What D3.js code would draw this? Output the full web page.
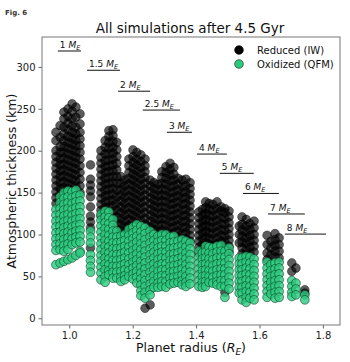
<!DOCTYPE html>
<html><head><meta charset="utf-8">
<script src="https://cdn.jsdelivr.net/npm/d3@7"></script>
<style>body{margin:0;background:#fff;}svg{display:block;font-family:"DejaVu Sans",sans-serif;}</style>
</head><body><svg id="c" width="350" height="362"></svg>
<script>
// ---- data ----
const colX = [0.958,0.971,0.983,0.996,1.009,1.021,1.034,1.067,
  1.100,1.113,1.125,1.138,1.150,1.163,1.175,1.188,1.201,1.213,1.226,1.239,1.255,1.267,1.280,
  1.292,1.305,1.318,1.330,1.343,1.356,1.368,1.381,
  1.409,1.420,1.430,1.441,1.453,1.466,1.479,1.491,1.504,
  1.536,1.545,1.558,1.570,1.583,
  1.624,1.636,1.649,1.662,1.702,1.715,1.743];
const reducedY = [
  [222,212,200,193,186,179,172,165,158,151,144,137],
  [230,216,205,198,190,183,176,169,162,155,148,141],
  [246,238,228,220,212,205,198,191,184,177,170,163,156,150],
  [250,241,233,225,217,210,203,196,189,182,175,168,161,155],
  [256,247,238,230,222,215,208,201,194,187,180,173,166,159],
  [252,240,228,220,213,206,199,192,185,178,171,164,157],
  [244,232,222,214,206,198,190,182,174,166,158,150],
  [183,166,159,152,145,133,122,115,108,84],
  [200,192,185,178,171,164,157,150,143,136,129,122],
  [212,204,196,188,181,174,167,160,153,146,139,132],
  [224,217,210,203,196,189,182,175,168,161,154,147,140,133],
  [225,218,211,204,197,190,183,176,169,162,155,148,141,134,127,120],
  [210,201,193,185,177,169,161,153,145,137,129,121,113,106],
  [169,161,154,147,140,133,126,119,112,105,100],
  [165,158,151,144,137,130,123,116,109,102],
  [190,182,174,167,160,153,146,139,132,125,118,111,106],
  [201,193,186,179,172,165,158,151,144,137,130,123,116,110],
  [198,190,183,176,169,162,155,148,141,134,127,120,113],
  [195,187,180,173,166,159,152,145,138,131,124,117,110],
  [190,182,175,168,161,154,147,140,133,126,119,112,12],
  [165,158,151,144,137,130,123,116,109,102,16],
  [162,155,148,141,134,127,120,113,106,100],
  [160,153,146,139,132,125,118,111,104,98],
  [175,168,161,154,147,140,133,126,119,112,105],
  [181,174,167,160,153,146,139,132,125,118,111,104,99],
  [185,178,171,164,157,150,143,136,129,122,115,108,101],
  [180,172,165,158,151,144,137,130,123,116,109,102],
  [167,160,153,146,139,132,125,118,111,104,97],
  [165,157,150,143,136,129,122,115,108,101,94],
  [166,158,151,144,137,130,123,116,109,102,95],
  [162,155,148,141,134,127,120,113,106,99,92],
  [127,120,113,106,99,92,85,78],
  [130,123,116,109,102,95,88,81,75],
  [139,132,125,118,111,104,97,90,83,76],
  [137,130,123,116,109,102,95,88,82],
  [136,129,122,115,108,101,94,87,82],
  [139,131,124,117,110,103,96,89,84],
  [133,128,120,113,106,99,92,85],
  [131,126,119,112,105,98,91,84,31],
  [128,121,114,107,100,93,86,80],
  [110,100,90],
  [121,112,105,98,91,84,77],
  [118,110,103,96,89,82,75],
  [113,106,99,92,85,78,72],
  [116,108,100,93,86,79],
  [99,88,78,70],
  [92,84,76],
  [101,94,87,80,73],
  [96,88,80,72],
  [66,56],
  [60],
  [34,30]
];
const oxidizedY = [
  [130,123,116,109,102,95,88,81,64],
  [145,138,131,124,117,110,103,96,89,82,66],
  [150,143,136,129,122,115,108,101,94,87,80,68],
  [152,145,138,131,124,117,110,103,96,89,82,70],
  [151,144,137,130,123,116,109,102,95,88,72],
  [153,146,139,132,125,118,111,104,97,90,75],
  [147,140,133,126,119,112,105,98,91,80,78],
  [104,97,90,76,69,62,55],
  [124,117,110,103,96,89,82,75,68,61,54,46],
  [128,121,114,107,100,93,86,79,72,65,58,50,43],
  [127,120,113,106,99,92,85,78,71,64,57,52],
  [118,111,104,97,90,83,76,69,62,55,48],
  [104,97,90,83,76,69,62,55,48],
  [98,91,84,77,70,63,56,49,44],
  [100,93,86,79,72,65,58,51,46],
  [106,99,92,85,78,71,64,57,50],
  [109,102,95,88,81,74,67,60,53,47],
  [112,105,98,91,84,77,70,63,56,49,42],
  [110,103,96,89,82,75,68,61,54,47,40,33,27],
  [108,101,94,87,80,73,66,59,52,45,38,31,24],
  [104,97,90,83,76,69,62,55,48,41,34,28],
  [100,93,86,79,72,65,58,51,44,37],
  [98,91,84,77,70,63,56,49,42,37],
  [100,93,86,79,72,65,58,51,44,38],
  [100,93,86,79,72,65,58,51,44,37],
  [97,90,83,76,69,62,55,48,41],
  [98,91,84,77,70,63,56,49,42],
  [92,85,78,71,64,57,50,43],
  [94,87,80,73,66,59,52,45,40],
  [92,85,78,71,64,57,50,43,38],
  [90,83,76,69,62,55,48,41],
  [80,73,66,59,52,45,38],
  [78,71,64,57,50,43,37],
  [86,79,72,65,58,51,44,38],
  [85,78,71,64,57,50,43],
  [84,77,70,63,56,49,42],
  [86,79,72,65,58,51,44,40],
  [87,80,73,66,59,52,45,38],
  [80,73,66,59,52,45,38,25],
  [84,77,70,63,56,49,42,35],
  [72,65,58,51,44,37,30],
  [72,65,58,51,44,37,30,22],
  [74,67,60,53,46,39,32,25,19],
  [73,66,59,52,45,38,31,24],
  [71,64,57,50,43,36,29,22],
  [67,60,53,46,39,32,25],
  [64,57,50,43,36,29],
  [66,59,52,45,38,31,24],
  [67,60,53,46,39,32,25],
  [45,38,31,26],
  [42,35,28],
  [28,22]
];
const massLabels = ["1","1.5","2","2.5","3","4","5","6","7","8"];
const massLineY = [319,296,271,248.5,222,196,173,149,124.5,100.5];
const massLineX0 = [0.964,1.056,1.154,1.232,1.308,1.403,1.475,1.548,1.627,1.680];
const massLineX1 = [1.037,1.160,1.255,1.349,1.387,1.497,1.582,1.661,1.743,1.810];
const xTicks = [1.0,1.2,1.4,1.6,1.8];
const yTicks = [0,50,100,150,200,250,300];
const seriesNames = ["Reduced (IW)","Oxidized (QFM)"];

// ---- drawing ----
const svg = d3.select("#c");
const L=42,R=340,T=37,B=325;
const x = d3.scaleLinear().domain([0.914,1.854]).range([L,R]);
const y = d3.scaleLinear().domain([-8,335.7]).range([B,T]);
const green="#2bcb7e";

svg.append("text").attr("x",5).attr("y",15).attr("font-size",7).attr("font-weight","bold").attr("fill","#333").text("Fig. 6");
svg.append("text").attr("x",190).attr("y",33).attr("text-anchor","middle").attr("font-size",13.5).attr("fill","#111").text("All simulations after 4.5 Gyr");

const redPts=[], oxPts=[];
colX.forEach((cx,i)=>{
  reducedY[i].forEach(v=>redPts.push([cx,v]));
  oxidizedY[i].forEach(v=>oxPts.push([cx,v]));
});
const gp = svg.append("g");
gp.selectAll("circle.r").data(redPts).join("circle").attr("class","r")
  .attr("cx",d=>x(d[0])).attr("cy",d=>y(d[1])).attr("r",4.4)
  .attr("fill","#000").attr("fill-opacity",0.64).attr("stroke","#000").attr("stroke-opacity",0.65).attr("stroke-width",0.6);
gp.selectAll("circle.o").data(oxPts).join("circle").attr("class","o")
  .attr("cx",d=>x(d[0])).attr("cy",d=>y(d[1])).attr("r",4.4)
  .attr("fill",green).attr("fill-opacity",0.8).attr("stroke","#0d3b22").attr("stroke-opacity",0.8).attr("stroke-width",0.7);

// mass lines & labels
massLabels.forEach((m,i)=>{
  svg.append("line").attr("x1",x(massLineX0[i])).attr("x2",x(massLineX1[i]))
    .attr("y1",y(massLineY[i])).attr("y2",y(massLineY[i])).attr("stroke","#111").attr("stroke-width",1);
  const t=svg.append("text").attr("x",x(massLineX0[i])+2).attr("y",y(massLineY[i])-3).attr("font-size",9).attr("fill","#111");
  t.append("tspan").text(m+" ");
  t.append("tspan").attr("font-style","italic").text("M");
  t.append("tspan").attr("font-style","italic").attr("font-size",6.5).attr("dy",2).text("E");
});

// axes
const ax = svg.append("g").attr("transform",`translate(0,${B})`)
  .call(d3.axisBottom(x).tickValues(xTicks).tickFormat(d3.format(".1f")).tickSize(3.5).tickPadding(3));
const ay = svg.append("g").attr("transform",`translate(${L},0)`)
  .call(d3.axisLeft(y).tickValues(yTicks).tickSize(3.5).tickPadding(3));
[ax,ay].forEach(a=>{
  a.select(".domain").remove();
  a.selectAll("line").attr("stroke","#666");
  a.selectAll("text").attr("font-size",10).attr("fill","#222").attr("font-family","DejaVu Sans");
});
svg.append("rect").attr("x",L).attr("y",T).attr("width",R-L).attr("height",B-T)
  .attr("fill","none").attr("stroke","#777").attr("stroke-width",1);

// axis labels
svg.append("text").attr("transform",`translate(16,181) rotate(-90)`).attr("text-anchor","middle")
  .attr("font-size",12.5).attr("fill","#111").text("Atmospheric thickness (km)");
const xl = svg.append("text").attr("x",191).attr("y",352).attr("text-anchor","middle").attr("font-size",12.5).attr("fill","#111");
xl.append("tspan").text("Planet radius (");
xl.append("tspan").attr("font-style","italic").text("R");
xl.append("tspan").attr("font-style","italic").attr("font-size",9).attr("dy",2.5).text("E");
xl.append("tspan").attr("dy",-2.5).text(")");

// legend
const lg = svg.append("g");
seriesNames.forEach((n,i)=>{
  const yy = 50 + i*14;
  lg.append("circle").attr("cx",239).attr("cy",yy).attr("r",4.3)
    .attr("fill", i===0?"#000":green).attr("stroke",i===0?"#000":"#0d3b22").attr("stroke-width",0.7);
  lg.append("text").attr("x",257).attr("y",yy+3.5).attr("font-size",10).attr("fill","#111").text(n);
});
</script></body></html>
